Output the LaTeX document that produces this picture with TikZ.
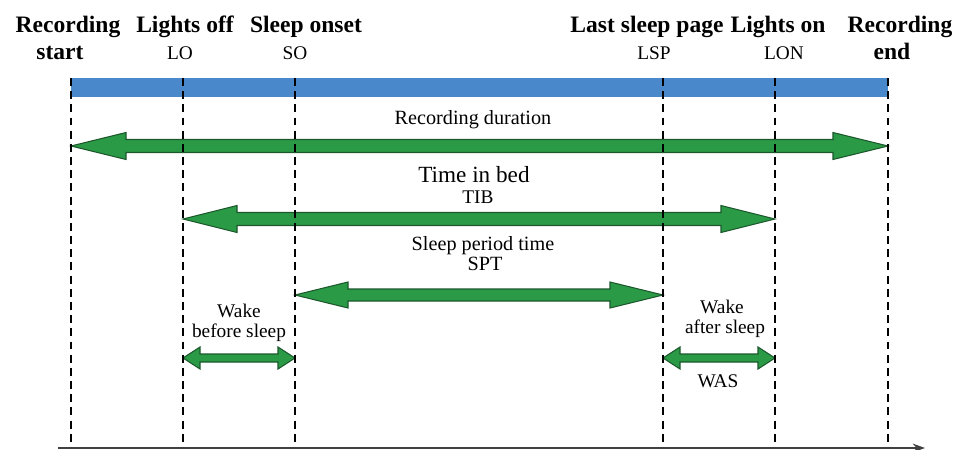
\documentclass[tikz,border=0pt]{standalone}
\usepackage{fontspec}
\setmainfont{Liberation Serif}
\usetikzlibrary{calc,arrows.meta}

\definecolor{barblue}{RGB}{74,136,204}
\definecolor{arrowgreen}{RGB}{42,154,70}
\definecolor{arrowedge}{RGB}{28,88,44}

\tikzset{
  event/.style={font=\fontsize{13.4}{15}\selectfont\bfseries, anchor=base, inner sep=0pt},
  abbr/.style={font=\fontsize{11}{13}\selectfont, anchor=base, inner sep=0pt},
  spantext/.style={font=\fontsize{11.5}{13}\selectfont, anchor=base, inner sep=0pt},
  dashline/.style={dash pattern=on 4.5pt off 3pt, line width=1.1pt},
  greenarrow/.style={fill=arrowgreen, draw=arrowedge, line width=0.6pt, line join=miter},
  timeaxis/.style={draw=black!75, line width=0.7pt, -{Stealth[length=7pt,width=5pt]}}
}

% #1 left tip, #2 right tip, #3 head length, #4 head half width, #5 shaft half width
\newcommand{\spanarrow}[5]{%
  \filldraw[greenarrow] (#1) -- ($(#1)+(#3,#4)$) -- ($(#1)+(#3,#5)$)
    -- ($(#2)+(-#3,#5)$) -- ($(#2)+(-#3,#4)$) -- (#2)
    -- ($(#2)+(-#3,-#4)$) -- ($(#2)+(-#3,-#5)$)
    -- ($(#1)+(#3,-#5)$) -- ($(#1)+(#3,-#4)$) -- cycle;}

\begin{document}
\begin{tikzpicture}[x=0.02cm, y=-0.02cm]
\useasboundingbox (0,0) rectangle (961,450);
% The blue bar is the whole recording
\fill[barblue] (71,78) rectangle (888,97);

% Ends of each of the green spans
\coordinate (rd1) at (71,146);
\coordinate (rd2) at (888,146);
\coordinate (tib1) at (183,219);
\coordinate (tib2) at (775,219);
\coordinate (spt1) at (295,295);
\coordinate (spt2) at (663,295);
\coordinate (wbs1) at (183,358);
\coordinate (wbs2) at (295,358);
\coordinate (was1) at (663,358);
\coordinate (was2) at (775,358);

\spanarrow{rd1}{rd2}{55}{13.5}{6.5}
\spanarrow{tib1}{tib2}{54}{13.5}{6.5}
\spanarrow{spt1}{spt2}{53}{13}{6}
\spanarrow{wbs1}{wbs2}{17}{11}{4}
\spanarrow{was1}{was2}{17}{11}{4}

% One dashed line for every event,
% running from the bar down to the axis
\foreach \n/\x in {rs/71,lo/183,so/295,lsp/663,lon/775,re/888}{
  \coordinate (\n top) at (\x,78);
  \coordinate (\n bot) at (\x,448);
  \draw[dashline] (\n top) -- (\n bot);
}

% Time axis
\coordinate (axl) at (58,448);
\coordinate (axr) at (925,448);
\draw[timeaxis] (axl) -- (axr);

% Event names along the top
\node[event] (recstart) at (68,32) {Recording};
\node[event] (recstartb) at (60,59) {start};
\node[event] (lightsoff) at (185,32) {Lights off};
\node[abbr] (lotext) at (180,59) {LO};
\node[event] (sleeponset) at (306,32) {Sleep onset};
\node[abbr] (sotext) at (295,59) {SO};
\node[event] (lastpage) at (647,32) {Last sleep page};
\node[abbr] (lsptext) at (654,59) {LSP};
\node[event] (lightson) at (778,32) {Lights on};
\node[abbr] (lontext) at (784,59) {LON};
\node[event] (recend) at (900,32) {Recording};
\node[event] (recendb) at (892,59) {end};

% Names of the spans
\node[spantext] (rdtext) at (473,124) {Recording duration};
\node[spantext, font=\fontsize{13.2}{15}\selectfont] (tibname) at (474,182) {Time in bed};
\node[abbr] (tibtext) at (478,203) {TIB};
\node[spantext] (sptname) at (483,250) {Sleep period time};
\node[spantext] (spttext) at (485,270) {SPT};
\node[abbr] (wbsa) at (239,317) {Wake};
\node[abbr] (wbsb) at (239,337) {before sleep};
\node[abbr] (wasa) at (722,313) {Wake};
\node[abbr] (wasb) at (725,333) {after sleep};
\node[abbr] (wastext) at (718,387) {WAS};
\end{tikzpicture}
\end{document}
